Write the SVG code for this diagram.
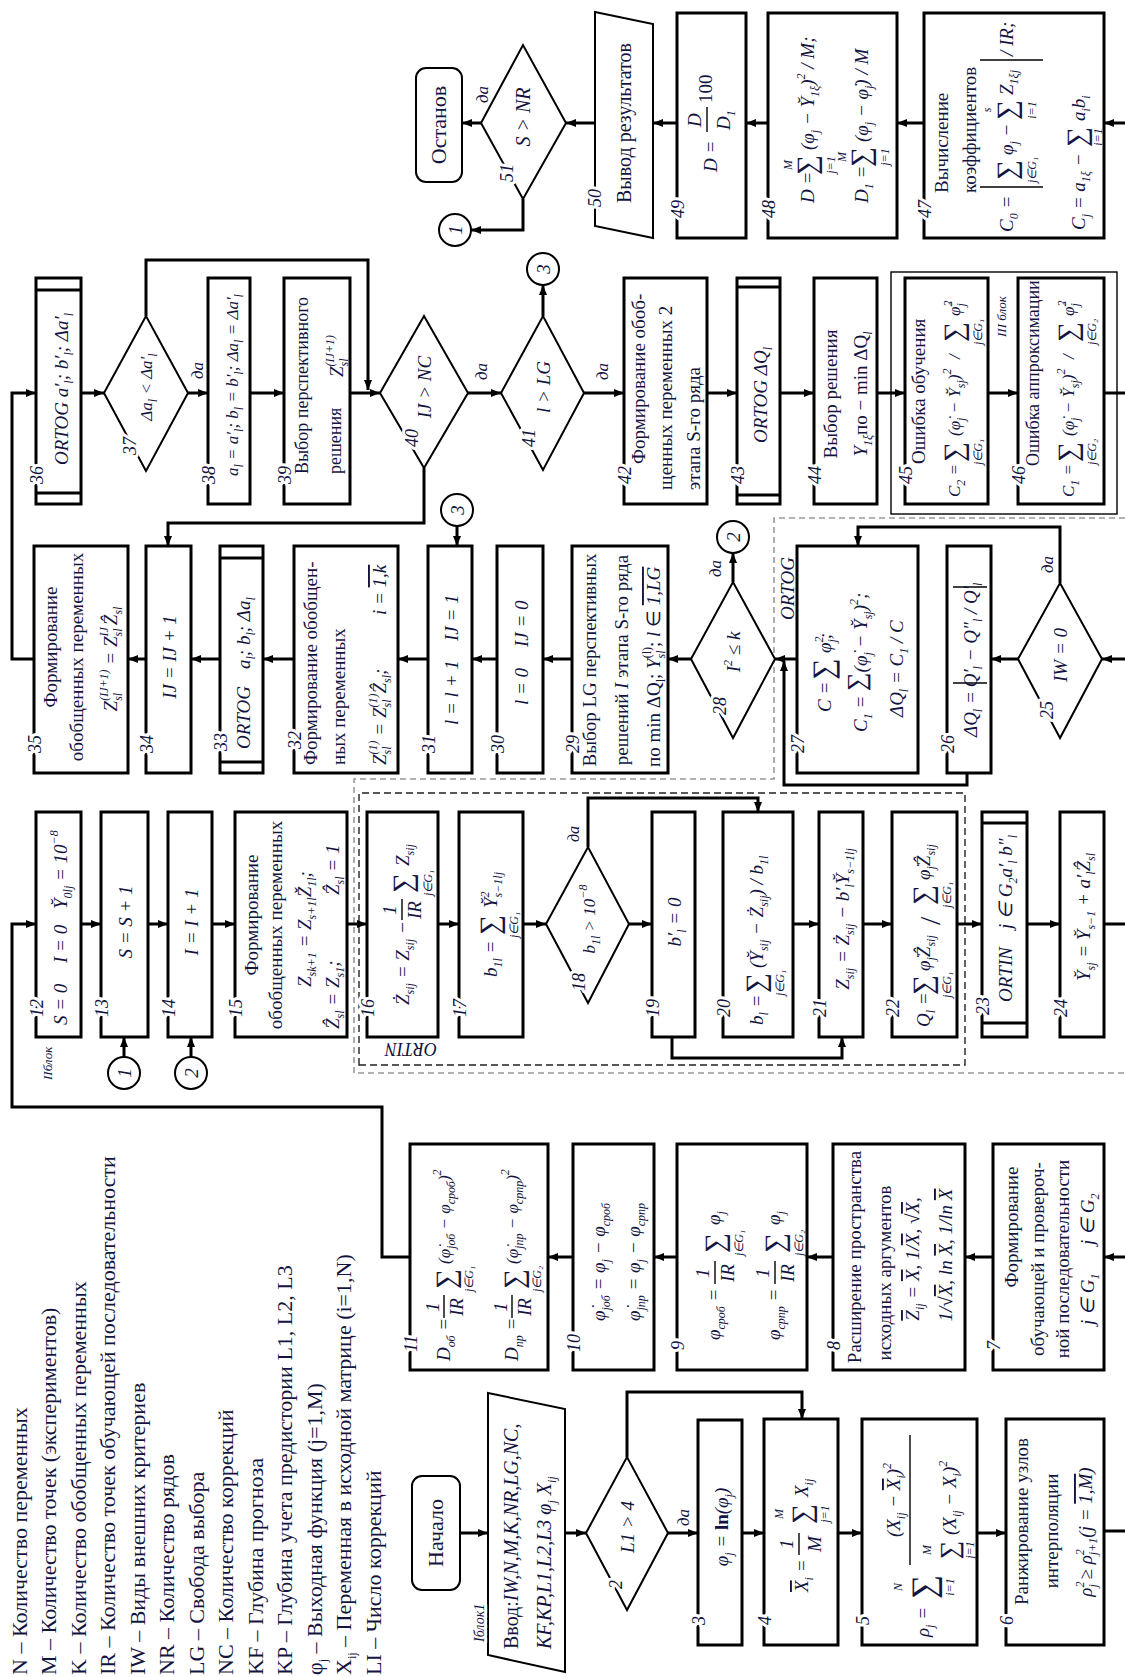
<svg xmlns="http://www.w3.org/2000/svg" width="1125" height="1677" viewBox="0 0 1125 1677">
<defs>
<style>
.b{fill:#fff;stroke:#000;stroke-width:3}
.d{fill:#fff;stroke:#000;stroke-width:2}
.c{fill:#fff;stroke:#000;stroke-width:2}
.w{fill:none;stroke:#000;stroke-width:3}
.h{fill:none;stroke:#000;stroke-width:3}
.fb{fill:none;stroke:#000;stroke-width:1.4}
.t{font-family:"Liberation Serif","Times New Roman",serif;font-size:19px;fill:#141440}
.i{font-style:italic}
.m{text-anchor:middle}
.k{font-size:17px}
.s{font-size:12px}
.g{font-size:28px;font-style:normal}
.lg{font-size:22px}
.big{font-size:22px}
.n{font-family:"Liberation Serif",serif;font-style:italic;font-size:18px;fill:#141440;stroke:#fff;stroke-width:6px;paint-order:stroke;stroke-linejoin:round}
.o{text-decoration:overline}
</style>
<marker id="a" viewBox="0 0 10 8" refX="10" refY="4" markerWidth="10" markerHeight="8" markerUnits="userSpaceOnUse" orient="auto"><path d="M0,0L10,4L0,8z" fill="#000"/></marker>
</defs>
<rect width="1125" height="1677" fill="#fff"/>
<g transform="matrix(0,-1,1,0,0,1677)">

<g id="legend">
<text class="t lg" x="2" y="27">N – Количество переменных</text>
<text class="t lg" x="2" y="56">M – Количество точек (экспериментов)</text>
<text class="t lg" x="2" y="86">K – Количество обобщенных переменных</text>
<text class="t lg" x="2" y="115">IR – Количество точек обучающей последовательности</text>
<text class="t lg" x="2" y="145">IW – Виды внешних критериев</text>
<text class="t lg" x="2" y="174">NR – Количество рядов</text>
<text class="t lg" x="2" y="204">LG – Свобода выбора</text>
<text class="t lg" x="2" y="233">NC – Количество коррекций</text>
<text class="t lg" x="2" y="263">KF – Глубина прогноза</text>
<text class="t lg" x="2" y="292">KP – Глубина учета предистории L1, L2, L3</text>
<text class="t lg" x="2" y="322">φ<tspan class="s" dy="5">j</tspan><tspan dy="-5"> – Выходная функция (j=1,M)</tspan></text>
<text class="t lg" x="2" y="351">X<tspan class="s" dy="5">ij</tspan><tspan dy="-5"> – Переменная в исходной матрице (i=1,N)</tspan></text>
<text class="t lg" x="2" y="381">LI – Число коррекций</text>
</g>

<g id="frames">
<path d="M1159,1125V774H898V354H604V1125" fill="none" stroke="#999" stroke-width="1.6" stroke-dasharray="6 4"/>
<rect x="612" y="359" width="272" height="606" fill="none" stroke="#222" stroke-width="1.4" stroke-dasharray="7 4"/>
<text class="t i" transform="translate(634,437) rotate(-90)" style="font-size:18px">ORTIN</text>
<text class="t i" x="1057" y="794">ORTOG</text>
<rect class="fb" x="1163" y="891" width="242" height="226"/>
<text class="t i" x="1340" y="1006" style="font-size:13px">III блок</text>
<text class="t i" x="597" y="52" style="font-size:13px">IIблок</text>
</g>

<g id="connectors" class="w">
<path d="M144,460V488" marker-end="url(#a)"/>
<path d="M144,565V586" marker-end="url(#a)"/>
<path d="M144,668V698" marker-end="url(#a)"/>
<path d="M220,627H285V802H258" marker-end="url(#a)"/>
<path d="M144,742V764" marker-end="url(#a)"/>
<path d="M144,838V862" marker-end="url(#a)"/>
<path d="M144,977V1006" marker-end="url(#a)"/>
<path d="M146,1104V1125"/>
<path d="M420,1125V1104" marker-end="url(#a)"/>
<path d="M420,993V965" marker-end="url(#a)"/>
<path d="M420,833V807" marker-end="url(#a)"/>
<path d="M420,677V654" marker-end="url(#a)"/>
<path d="M420,573V548" marker-end="url(#a)"/>
<path d="M420,410V382H570V12H753V36" marker-end="url(#a)"/>
<path d="M753,81V101" marker-end="url(#a)"/>
<path d="M620,124H640" marker-end="url(#a)"/>
<path d="M753,148V168" marker-end="url(#a)"/>
<path d="M620,191H640" marker-end="url(#a)"/>
<path d="M753,212V235" marker-end="url(#a)"/>
<path d="M753,347V367" marker-end="url(#a)"/>
<path d="M753,438V459" marker-end="url(#a)"/>
<path d="M753,523V546" marker-end="url(#a)"/>
<path d="M830,588H879V758H865" marker-end="url(#a)"/>
<path d="M753,629V652" marker-end="url(#a)"/>
<path d="M640,672H619V842H640" marker-end="url(#a)"/>
<path d="M753,793V819" marker-end="url(#a)"/>
<path d="M753,863V892" marker-end="url(#a)"/>
<path d="M753,957V982" marker-end="url(#a)"/>
<path d="M753,1027V1060" marker-end="url(#a)"/>
<path d="M753,1104V1125"/>
<path d="M1018,1125V1102" marker-end="url(#a)"/>
<path d="M1018,1018V991" marker-end="url(#a)"/>
<path d="M1094,1060H1150V858H1131" marker-end="url(#a)"/>
<path d="M904,967H892V784H1016" marker-end="url(#a)"/>
<path d="M1018,797V775" marker-end="url(#a)"/>
<path d="M1095,733H1124" marker-end="url(#a)"/>
<path d="M1018,691V668" marker-end="url(#a)"/>
<path d="M1018,572V543" marker-end="url(#a)"/>
<path d="M1018,497V472" marker-end="url(#a)"/>
<path d="M1151,457H1131" marker-end="url(#a)"/>
<path d="M1018,428V398" marker-end="url(#a)"/>
<path d="M1018,294V263" marker-end="url(#a)"/>
<path d="M1018,220V191" marker-end="url(#a)"/>
<path d="M1018,146V128" marker-end="url(#a)"/>
<path d="M1018,34V12H1284V36" marker-end="url(#a)"/>
<path d="M1209,424H1154V168H1131" marker-end="url(#a)"/>
<path d="M1284,81V104" marker-end="url(#a)"/>
<path d="M1361,146H1417V368H1287" marker-end="url(#a)"/>
<path d="M1284,188V208" marker-end="url(#a)"/>
<path d="M1284,250V284" marker-end="url(#a)"/>
<path d="M1284,350V380" marker-end="url(#a)"/>
<path d="M1284,468V501" marker-end="url(#a)"/>
<path d="M1361,543H1392" marker-end="url(#a)"/>
<path d="M1284,584V624" marker-end="url(#a)"/>
<path d="M1284,707V737" marker-end="url(#a)"/>
<path d="M1284,780V814" marker-end="url(#a)"/>
<path d="M1284,877V905" marker-end="url(#a)"/>
<path d="M1284,988V1018" marker-end="url(#a)"/>
<path d="M1284,1104V1125"/>
<path d="M1554,1125V1104" marker-end="url(#a)"/>
<path d="M1554,924V897" marker-end="url(#a)"/>
<path d="M1554,768V746" marker-end="url(#a)"/>
<path d="M1554,677V653" marker-end="url(#a)"/>
<path d="M1554,595V566" marker-end="url(#a)"/>
<path d="M1554,481V462" marker-end="url(#a)"/>
<path d="M1478,523H1447V471" marker-end="url(#a)"/>
</g>

<g id="n-start"><rect class="c" x="87" y="412" width="114" height="48" rx="10"/><text class="t big m" x="144" y="443">Начало</text></g>
<g id="n1"><polygon class="d" points="22,488 284,488 268,565 5,565"/><text class="n" x="35" y="484" style="font-size:14px">Iблок1</text>
<text class="t i" x="28" y="518" style="font-size:20px"><tspan style="font-style:normal">Ввод:</tspan>IW,N,M,K,NR,LG,NC,</text>
<text class="t i" x="28" y="551" style="font-size:20px">KF,KP,L1,L2,L3 φ<tspan class="s" dy="5">j</tspan><tspan dy="-5">  X</tspan><tspan class="s" dy="5">ij</tspan></text></g>
<g id="n2"><polygon class="d" points="67,627 144,586 220,627 144,668"/><text class="n" x="88" y="622">2</text><text class="t i m" x="150" y="634">L1 &gt; 4</text><text class="t i" x="151" y="689" style="font-size:17px">да</text></g>
<g id="n3"><rect class="b" x="32" y="698" width="225" height="44"/><text class="n" x="52" y="705">3</text><text class="t i m" x="150" y="728">φ<tspan class="s" dy="5">j</tspan><tspan dy="-5"> = </tspan><tspan style="font-weight:bold;font-style:normal">ln</tspan><tspan>(φ</tspan><tspan class="s" dy="5">j</tspan><tspan dy="-5">)</tspan></text></g>
<g id="n4"><rect class="b" x="32" y="764" width="226" height="74"/><text class="n" x="52" y="771">4</text>
<text class="t i" x="85" y="808"><tspan class="o">X</tspan><tspan class="s" dy="5">i</tspan><tspan dy="-5"> =</tspan></text>
<text class="t i m" x="133" y="793">1</text><line class="fb" x1="122" y1="799" x2="144" y2="799"/><text class="t i m" x="133" y="821">M</text>
<text class="t g m" x="163" y="811">∑</text><text class="t s i m" x="163" y="783">M</text><text class="t s i m" x="163" y="829">j=1</text>
<text class="t i" x="180" y="808">X<tspan class="s" dy="5">ij</tspan></text></g>
<g id="n5"><rect class="b" x="32" y="862" width="226" height="115"/><text class="n" x="52" y="869">5</text>
<text class="t i" x="40" y="929">ρ<tspan class="s" dy="5">j</tspan><tspan dy="-5"> =</tspan></text>
<text class="t g m" x="90" y="935" style="font-size:34px">∑</text><text class="t s i m" x="90" y="902">N</text><text class="t s i m" x="90" y="954">i=1</text>
<text class="t i m" x="177" y="900">(X<tspan class="s" dy="5">ij</tspan><tspan dy="-5"> − </tspan><tspan class="o">X</tspan><tspan class="s" dy="5">i</tspan><tspan dy="-5">)</tspan><tspan class="s" dy="-9">2</tspan></text>
<line class="fb" x1="112" y1="910" x2="242" y2="910"/>
<text class="t g m" x="127" y="958" style="font-size:26px">∑</text><text class="t s i m" x="127" y="931">M</text><text class="t s i m" x="127" y="974">j=1</text>
<text class="t i" x="142" y="956">(X<tspan class="s" dy="5">ij</tspan><tspan dy="-5"> − X</tspan><tspan class="s" dy="5">i</tspan><tspan dy="-5">)</tspan><tspan class="s" dy="-9">2</tspan></text></g>
<g id="n6"><rect class="b" x="32" y="1006" width="226" height="98"/><text class="n" x="52" y="1013">6</text>
<text class="t" x="72" y="1028">Ранжирование узлов</text>
<text class="t m" x="146" y="1058">интерполяции</text>
<text class="t i m" x="145" y="1092">ρ<tspan class="s" dy="-8">2</tspan><tspan class="s" dx="-6" dy="13">j</tspan><tspan dy="-5"> ≥ ρ</tspan><tspan class="s" dy="-8">2</tspan><tspan class="s" dx="-6" dy="13">j+1</tspan><tspan dy="-5">(j = </tspan><tspan class="o">1,M</tspan><tspan>)</tspan></text></g>

<g id="n7"><rect class="b" x="307" y="993" width="226" height="111"/><text class="n" x="327" y="1000">7</text>
<text class="t m" x="450" y="1018">Формирование</text>
<text class="t m" x="418" y="1044">обучающей и провероч-</text>
<text class="t m" x="418" y="1069">ной последовательности</text>
<text class="t i" x="352" y="1094">j ∈ G<tspan class="s" dy="5">1</tspan></text>
<text class="t i" x="432" y="1094">j ∈ G<tspan class="s" dy="5">2</tspan></text></g>
<g id="n8"><rect class="b" x="307" y="833" width="226" height="132"/><text class="n" x="327" y="840">8</text>
<text class="t m" x="420" y="861">Расширение пространства</text>
<text class="t m" x="404" y="891">исходных аргументов</text>
<text class="t i m" x="418" y="919"><tspan class="o">Z</tspan><tspan class="s" dy="5">ij</tspan><tspan dy="-5"> = </tspan><tspan class="o">X</tspan><tspan>, 1/</tspan><tspan class="o">X</tspan><tspan>, √</tspan><tspan class="o">X</tspan><tspan>,</tspan></text>
<text class="t i m" x="422" y="952">1/√<tspan class="o">X</tspan><tspan>, ln </tspan><tspan class="o">X</tspan><tspan>, 1/ln </tspan><tspan class="o">X</tspan></text></g>
<g id="n9"><rect class="b" x="307" y="677" width="226" height="130"/><text class="n" x="327" y="684">9</text>
<text class="t i" x="337" y="720">φ<tspan class="s" dy="5">сроб</tspan><tspan dy="-5"> =</tspan></text>
<text class="t i m" x="404" y="709">1</text><line class="fb" x1="393" y1="715" x2="416" y2="715"/><text class="t i m" x="404" y="734">IR</text>
<text class="t g m" x="434" y="724">∑</text><text class="t s i m" x="434" y="743">j∈G₁</text>
<text class="t i" x="452" y="720">φ<tspan class="s" dy="5">j</tspan></text>
<text class="t i" x="337" y="780">φ<tspan class="s" dy="5">српр</tspan><tspan dy="-5"> =</tspan></text>
<text class="t i m" x="404" y="769">1</text><line class="fb" x1="393" y1="775" x2="416" y2="775"/><text class="t i m" x="404" y="794">IR</text>
<text class="t g m" x="434" y="784">∑</text><text class="t s i m" x="434" y="803">j∈G₂</text>
<text class="t i" x="452" y="780">φ<tspan class="s" dy="5">j</tspan></text></g>
<g id="n10"><rect class="b" x="307" y="573" width="226" height="81"/><text class="n" x="325" y="580">10</text>
<text class="t i m" x="415" y="605">φ̇<tspan class="s" dy="5">jоб</tspan><tspan dy="-5"> = φ</tspan><tspan class="s" dy="5">j</tspan><tspan dy="-5"> − φ</tspan><tspan class="s" dy="5">сроб</tspan></text>
<text class="t i m" x="415" y="640">φ̇<tspan class="s" dy="5">jпр</tspan><tspan dy="-5"> = φ</tspan><tspan class="s" dy="5">j</tspan><tspan dy="-5"> − φ</tspan><tspan class="s" dy="5">српр</tspan></text></g>
<g id="n11"><rect class="b" x="307" y="410" width="226" height="138"/><text class="n" x="325" y="417">11</text>
<text class="t i" x="316" y="450">D<tspan class="s" dy="5">об</tspan><tspan dy="-5"> =</tspan></text>
<text class="t i m" x="370" y="439">1</text><line class="fb" x1="359" y1="444" x2="382" y2="444"/><text class="t i m" x="370" y="463">IR</text>
<text class="t g m" x="398" y="455">∑</text><text class="t s i m" x="398" y="473">j∈G₁</text>
<text class="t i k" x="413" y="450">(φ̇<tspan class="s" dy="5">jоб</tspan><tspan dy="-5"> − φ</tspan><tspan class="s" dy="5">сроб</tspan><tspan dy="-5">)</tspan><tspan class="s" dy="-9">2</tspan></text>
<text class="t i" x="316" y="518">D<tspan class="s" dy="5">пр</tspan><tspan dy="-5"> =</tspan></text>
<text class="t i m" x="370" y="507">1</text><line class="fb" x1="359" y1="512" x2="382" y2="512"/><text class="t i m" x="370" y="531">IR</text>
<text class="t g m" x="398" y="523">∑</text><text class="t s i m" x="398" y="541">j∈G₂</text>
<text class="t i k" x="413" y="518">(φ̇<tspan class="s" dy="5">jпр</tspan><tspan dy="-5"> − φ</tspan><tspan class="s" dy="5">српр</tspan><tspan dy="-5">)</tspan><tspan class="s" dy="-9">2</tspan></text></g>

<g id="n12"><rect class="b" x="640" y="36" width="225" height="45"/><text class="n" x="660" y="43">12</text>
<text class="t i" x="652" y="67">S = 0</text><text class="t i" x="714" y="67">I = 0</text>
<text class="t i" x="768" y="67">Y̆<tspan class="s" dy="5">0lj</tspan><tspan dy="-5"> = 10</tspan><tspan class="s" dy="-9">−8</tspan></text></g>
<g id="n13"><rect class="b" x="640" y="101" width="225" height="47"/><text class="n" x="660" y="108">13</text><text class="t i m" x="755" y="132">S = S + 1</text></g>
<g id="c1a"><circle class="c" cx="604" cy="124" r="16"/><text class="t i m" x="604" y="131">1</text></g>
<g id="n14"><rect class="b" x="640" y="168" width="225" height="44"/><text class="n" x="660" y="175">14</text><text class="t i m" x="755" y="198">I = I + 1</text></g>
<g id="c2a"><circle class="c" cx="604" cy="191" r="16"/><text class="t i m" x="604" y="198">2</text></g>
<g id="n15"><rect class="b" x="640" y="235" width="225" height="112"/><text class="n" x="660" y="242">15</text>
<text class="t m" x="762" y="258">Формирование</text>
<text class="t m" x="752" y="282">обобщенных переменных</text>
<text class="t i" x="690" y="311">Z<tspan class="s" dy="5">sk+1</tspan><tspan dy="-5"> = Z</tspan><tspan class="s" dy="5">s+1l</tspan><tspan dy="-5">Ž</tspan><tspan class="s" dy="5">1l</tspan><tspan dy="-5">;</tspan></text>
<text class="t i" x="648" y="339">Ẑ<tspan class="s" dy="5">sl</tspan><tspan dy="-5"> = Z</tspan><tspan class="s" dy="5">s1</tspan><tspan dy="-5">;</tspan></text>
<text class="t i" x="782" y="339">Ẑ<tspan class="s" dy="5">sl</tspan><tspan dy="-5"> = 1</tspan></text></g>
<g id="n16"><rect class="b" x="640" y="367" width="225" height="71"/><text class="n" x="660" y="374">16</text>
<text class="t i" x="672" y="409">Ż<tspan class="s" dy="5">sij</tspan><tspan dy="-5"> = Z</tspan><tspan class="s" dy="5">sij</tspan><tspan dy="-5"> −</tspan></text>
<text class="t i m" x="767" y="396">1</text><line class="fb" x1="757" y1="402" x2="778" y2="402"/><text class="t i m" x="767" y="421">IR</text>
<text class="t g m" x="794" y="412">∑</text><text class="t s i m" x="794" y="432">j∈G₁</text>
<text class="t i" x="811" y="409">Z<tspan class="s" dy="5">sij</tspan></text></g>
<g id="n17"><rect class="b" x="640" y="459" width="225" height="64"/><text class="n" x="660" y="466">17</text>
<text class="t i" x="700" y="497">b<tspan class="s" dy="5">1l</tspan><tspan dy="-5"> =</tspan></text>
<text class="t g m" x="752" y="499">∑</text><text class="t s i m" x="752" y="518">j∈G₁</text>
<text class="t i" x="769" y="497">Y̆<tspan class="s" dy="-8">2</tspan><tspan class="s" dx="-6" dy="13">s−1lj</tspan></text></g>
<g id="n18"><polygon class="d" points="674,588 753,546 830,588 753,629"/><text class="n" x="686" y="585">18</text>
<text class="t i m k" x="758" y="595">b<tspan class="s" dy="5">1l</tspan><tspan dy="-5"> &gt; 10</tspan><tspan class="s" dy="-8">−8</tspan></text>
<text class="t i" x="835" y="579" style="font-size:16px">да</text></g>
<g id="n19"><rect class="b" x="640" y="652" width="225" height="43"/><text class="n" x="660" y="659">19</text><text class="t i m" x="755" y="681">b′<tspan class="s" dy="5">l</tspan><tspan dy="-5"> = 0</tspan></text></g>
<g id="n20"><rect class="b" x="640" y="723" width="225" height="70"/><text class="n" x="660" y="730">20</text>
<text class="t i" x="652" y="763">b<tspan class="s" dy="5">l</tspan><tspan dy="-5"> =</tspan></text>
<text class="t g m" x="694" y="765">∑</text><text class="t s i m" x="694" y="784">j∈G₁</text>
<text class="t i" x="709" y="763">(Y̆<tspan class="s" dy="5">sij</tspan><tspan dy="-5"> − Ż</tspan><tspan class="s" dy="5">sij</tspan><tspan dy="-5">) / b</tspan><tspan class="s" dy="5">1l</tspan></text></g>
<g id="n21"><rect class="b" x="640" y="819" width="225" height="44"/><text class="n" x="660" y="826">21</text><text class="t i m" x="758" y="849">Z<tspan class="s" dy="5">sij</tspan><tspan dy="-5"> = Ż</tspan><tspan class="s" dy="5">sij</tspan><tspan dy="-5"> − b′</tspan><tspan class="s" dy="5">l</tspan><tspan dy="-5">Y̆</tspan><tspan class="s" dy="5">s−1lj</tspan></text></g>
<g id="n22"><rect class="b" x="640" y="892" width="225" height="65"/><text class="n" x="660" y="899">22</text>
<text class="t i" x="650" y="930">Q<tspan class="s" dy="5">l</tspan><tspan dy="-5"> =</tspan></text>
<text class="t g m" x="692" y="932">∑</text><text class="t s i m" x="692" y="951">j∈G₁</text>
<text class="t i" x="706" y="930">φ̇<tspan class="s" dy="5">j</tspan><tspan dy="-5">Ẑ</tspan><tspan class="s" dy="5">sij</tspan></text>
<text class="t" x="752" y="940" style="font-size:30px">/</text>
<text class="t g m" x="782" y="932">∑</text><text class="t s i m" x="782" y="951">j∈G₁</text>
<text class="t i" x="797" y="930">φ̇<tspan class="s" dy="5">j</tspan><tspan dy="-5">Ẑ</tspan><tspan class="s" dy="5">sij</tspan></text></g>
<g id="n23"><rect class="b" x="640" y="982" width="225" height="45"/><line class="h" x1="654" y1="982" x2="654" y2="1027"/><line class="h" x1="854" y1="982" x2="854" y2="1027"/><text class="n" x="662" y="989">23</text>
<text class="t i" x="675" y="1012">ORTIN</text><text class="t i" x="748" y="1012">j ∈ G<tspan class="s" dy="5">2</tspan><tspan dy="-5">a′</tspan><tspan class="s" dy="5">l</tspan><tspan dy="-5"> b″</tspan><tspan class="s" dy="5">l</tspan></text></g>
<g id="n24"><rect class="b" x="640" y="1060" width="225" height="44"/><text class="n" x="660" y="1067">24</text><text class="t i m" x="760" y="1090">Y̆<tspan class="s" dy="5">sj</tspan><tspan dy="-5"> = Y̆</tspan><tspan class="s" dy="5">s−1</tspan><tspan dy="-5"> + a′</tspan><tspan class="s" dy="5">l</tspan><tspan dy="-5">Ẑ</tspan><tspan class="s" dy="5">sl</tspan></text></g>

<g id="n25"><polygon class="d" points="939,1060 1018,1018 1094,1060 1018,1102"/><text class="n" x="958" y="1053">25</text><text class="t i m" x="1022" y="1067">IW = 0</text><text class="t i" x="1104" y="1053" style="font-size:17px">да</text></g>
<g id="n26"><rect class="b" x="904" y="947" width="227" height="44"/><text class="n" x="924" y="954">26</text>
<text class="t i" x="940" y="977">ΔQ<tspan class="s" dy="5">l</tspan><tspan dy="-5"> =</tspan></text>
<line class="fb" x1="994" y1="953" x2="994" y2="987"/><line class="fb" x1="1090" y1="953" x2="1090" y2="987"/>
<text class="t i m" x="1042" y="977">Q′<tspan class="s" dy="5">l</tspan><tspan dy="-5"> − Q″</tspan><tspan class="s" dy="5">l</tspan><tspan dy="-5"> / Q′</tspan><tspan class="s" dy="5">l</tspan></text></g>
<g id="n27"><rect class="b" x="904" y="797" width="227" height="121"/><text class="n" x="924" y="804">27</text>
<text class="t i" x="965" y="831">C =</text><text class="t g m" x="1008" y="833" style="font-size:30px">∑</text><text class="t i" x="1024" y="831">φ<tspan class="s" dy="-8">2</tspan><tspan class="s" dx="-6" dy="13">j</tspan><tspan dy="-5">;</tspan></text>
<text class="t i" x="945" y="867">C<tspan class="s" dy="5">1</tspan><tspan dy="-5"> = </tspan><tspan style="font-size:26px;font-style:normal" dy="-2">∑</tspan><tspan dy="2">(φ̇</tspan><tspan class="s" dy="5">j</tspan><tspan dy="-5"> − Y̆</tspan><tspan class="s" dy="5">sj</tspan><tspan dy="-5">)</tspan><tspan class="s" dy="-9">2</tspan><tspan dy="9">;</tspan></text>
<text class="t i" x="960" y="903">ΔQ<tspan class="s" dy="5">l</tspan><tspan dy="-5"> = C</tspan><tspan class="s" dy="5">1</tspan><tspan dy="-5"> / C</tspan></text></g>
<g id="n28"><polygon class="d" points="939,733 1018,691 1095,733 1018,775"/><text class="n" x="962" y="726">28</text><text class="t i m" x="1025" y="740">I<tspan class="s" dy="-8">2</tspan><tspan dy="8"> ≤ k</tspan></text><text class="t i" x="1100" y="721" style="font-size:17px">да</text></g>
<g id="c2b"><circle class="c" cx="1140" cy="733" r="16"/><text class="t i m" x="1140" y="740">2</text></g>
<g id="n29"><rect class="b" x="904" y="572" width="227" height="96"/><text class="n" x="924" y="579">29</text>
<text class="t m" x="1017" y="596">Выбор LG перспективных</text>
<text class="t m" x="1017" y="628">решений <tspan class="i">I</tspan> этапа S-го ряда</text>
<text class="t" x="910" y="660">по min ΔQ<tspan class="s" dy="5">l</tspan><tspan dy="-5">; </tspan><tspan class="i">Y</tspan><tspan class="s i" dy="5">sl</tspan><tspan class="s" dx="-8" dy="-14">(l)</tspan><tspan dy="9">; </tspan><tspan class="i">l</tspan><tspan> ∈ </tspan><tspan class="o i">1,LG</tspan></text></g>
<g id="n30"><rect class="b" x="904" y="497" width="227" height="46"/><text class="n" x="924" y="504">30</text><text class="t i" x="972" y="528">l = 0</text><text class="t i" x="1030" y="528">IJ = 0</text></g>
<g id="n31"><rect class="b" x="904" y="428" width="227" height="44"/><text class="n" x="924" y="435">31</text><text class="t i" x="952" y="458">l = l + 1</text><text class="t i" x="1036" y="458">IJ = 1</text></g>
<g id="c3a"><circle class="c" cx="1167" cy="457" r="16"/><text class="t i m" x="1167" y="464">3</text></g>
<g id="n32"><rect class="b" x="904" y="294" width="227" height="104"/><text class="n" x="928" y="301">32</text>
<text class="t" x="912" y="317">Формирование обобщен-</text>
<text class="t" x="912" y="345">ных переменных</text>
<text class="t i" x="912" y="386">Z<tspan class="s" dy="5">sl</tspan><tspan class="s" dx="-8" dy="-14">(1)</tspan><tspan dy="9"> = Z</tspan><tspan class="s" dy="5">sl</tspan><tspan class="s" dx="-8" dy="-14">(1)</tspan><tspan dy="9">Ẑ</tspan><tspan class="s" dy="5">sl</tspan><tspan dy="-5">;</tspan></text>
<text class="t i" x="1062" y="386">i = <tspan class="o">1,k</tspan></text></g>
<g id="n33"><rect class="b" x="904" y="220" width="227" height="43"/><line class="h" x1="915" y1="220" x2="915" y2="263"/><line class="h" x1="1119" y1="220" x2="1119" y2="263"/><text class="n" x="926" y="227">33</text>
<text class="t i" x="928" y="250">ORTOG</text><text class="t i" x="1008" y="250">a<tspan class="s" dy="5">l</tspan><tspan dy="-5">; b</tspan><tspan class="s" dy="5">l</tspan><tspan dy="-5">; Δa</tspan><tspan class="s" dy="5">l</tspan></text></g>
<g id="n34"><rect class="b" x="904" y="146" width="227" height="45"/><text class="n" x="924" y="153">34</text><text class="t i m" x="1020" y="176">IJ = IJ + 1</text></g>
<g id="n35"><rect class="b" x="904" y="34" width="227" height="94"/><text class="n" x="924" y="41">35</text>
<text class="t m" x="1030" y="57">Формирование</text>
<text class="t m" x="1020" y="83">обобщенных переменных</text>
<text class="t i m" x="1018" y="117">Z<tspan class="s" dy="5">sl</tspan><tspan class="s" dx="-8" dy="-14">(IJ+1)</tspan><tspan dy="9"> = Z</tspan><tspan class="s" dy="5">sl</tspan><tspan class="s" dx="-8" dy="-14">IJ</tspan><tspan dx="2" dy="9">Ẑ</tspan><tspan class="s" dy="5">sl</tspan></text></g>

<g id="n36"><rect class="b" x="1173" y="36" width="226" height="45"/><line class="h" x1="1184" y1="36" x2="1184" y2="81"/><line class="h" x1="1387" y1="36" x2="1387" y2="81"/><text class="n" x="1193" y="43">36</text>
<text class="t i m" x="1288" y="68">ORTOG  a′<tspan class="s" dy="5">l</tspan><tspan dy="-5">; b′</tspan><tspan class="s" dy="5">l</tspan><tspan dy="-5">; Δa′</tspan><tspan class="s" dy="5">l</tspan></text></g>
<g id="n37"><polygon class="d" points="1206,146 1284,104 1361,146 1284,188"/><text class="n" x="1222" y="136">37</text><text class="t i m k" x="1290" y="152">Δa<tspan class="s" dy="5">l</tspan><tspan dy="-5"> &lt; Δa′</tspan><tspan class="s" dy="5">l</tspan></text><text class="t i" x="1298" y="203" style="font-size:17px">да</text></g>
<g id="n38"><rect class="b" x="1173" y="208" width="226" height="42"/><text class="n" x="1193" y="215">38</text><text class="t i m k" x="1292" y="238">a<tspan class="s" dy="5">l</tspan><tspan dy="-5"> = a′</tspan><tspan class="s" dy="5">l</tspan><tspan dy="-5">; b</tspan><tspan class="s" dy="5">l</tspan><tspan dy="-5"> = b′</tspan><tspan class="s" dy="5">l</tspan><tspan dy="-5">; Δa</tspan><tspan class="s" dy="5">l</tspan><tspan dy="-5"> = Δa′</tspan><tspan class="s" dy="5">l</tspan></text></g>
<g id="n39"><rect class="b" x="1173" y="284" width="226" height="66"/><text class="n" x="1193" y="291">39</text>
<text class="t" x="1203" y="308" style="font-size:18px">Выбор перспективного</text>
<text class="t" x="1203" y="341" style="font-size:18px">решения</text>
<text class="t i" x="1300" y="343">Z<tspan class="s" dy="5">sl</tspan><tspan class="s" dx="-8" dy="-14">(IJ+1)</tspan></text></g>
<g id="n40"><polygon class="d" points="1209,424 1284,380 1361,424 1284,468"/><text class="n" x="1230" y="418">40</text><text class="t i m" x="1290" y="431">IJ &gt; NC</text><text class="t i" x="1297" y="487" style="font-size:17px">да</text></g>
<g id="n41"><polygon class="d" points="1207,543 1284,501 1361,543 1284,584"/><text class="n" x="1230" y="535">41</text><text class="t i m" x="1290" y="550">l &gt; LG</text><text class="t i" x="1297" y="608" style="font-size:17px">да</text></g>
<g id="c3b"><circle class="c" cx="1408" cy="543" r="16"/><text class="t i m" x="1408" y="550">3</text></g>
<g id="n42"><rect class="b" x="1173" y="624" width="226" height="83"/><text class="n" x="1193" y="631">42</text>
<text class="t" x="1213" y="645">Формирование обоб-</text>
<text class="t" x="1187" y="672">щенных переменных 2</text>
<text class="t" x="1187" y="700">этапа S-го ряда</text></g>
<g id="n43"><rect class="b" x="1173" y="737" width="226" height="43"/><line class="h" x1="1182" y1="737" x2="1182" y2="780"/><line class="h" x1="1390" y1="737" x2="1390" y2="780"/><text class="n" x="1193" y="744">43</text>
<text class="t i m" x="1282" y="767">ORTOG  ΔQ<tspan class="s" dy="5">l</tspan></text></g>
<g id="n44"><rect class="b" x="1173" y="814" width="226" height="63"/><text class="n" x="1193" y="821">44</text>
<text class="t m" x="1283" y="837">Выбор решения</text>
<text class="t m" x="1283" y="867"><tspan class="i">Y</tspan><tspan class="s i" dy="5">1ξ</tspan><tspan dy="-5">по − min ΔQ</tspan><tspan class="s i" dy="5">l</tspan></text></g>
<g id="n45"><rect class="b" x="1173" y="905" width="226" height="83"/><text class="n" x="1193" y="912">45</text>
<text class="t" x="1213" y="925">Ошибка обучения</text>
<text class="t i k" x="1180" y="960">C<tspan class="s" dy="5">2</tspan><tspan dy="-5"> =</tspan></text>
<text class="t g m" x="1225" y="963">∑</text><text class="t s i m" x="1225" y="982">j∈G₁</text>
<text class="t i k" x="1241" y="960">(φ̇<tspan class="s" dy="5">j</tspan><tspan dy="-5"> − Y̆</tspan><tspan class="s" dy="5">sj</tspan><tspan dy="-5">)</tspan><tspan class="s" dy="-9">2</tspan></text>
<text class="t i k" x="1318" y="960">/</text>
<text class="t g m" x="1345" y="963">∑</text><text class="t s i m" x="1345" y="982">j∈G₁</text>
<text class="t i k" x="1361" y="960">φ̇<tspan class="s" dy="-8">2</tspan><tspan class="s" dx="-6" dy="13">j</tspan></text></g>
<g id="n46"><rect class="b" x="1173" y="1018" width="226" height="86"/><text class="n" x="1193" y="1025">46</text>
<text class="t" x="1211" y="1039" style="font-size:18px">Ошибка аппроксимации</text>
<text class="t i k" x="1180" y="1074">C<tspan class="s" dy="5">1</tspan><tspan dy="-5"> =</tspan></text>
<text class="t g m" x="1225" y="1077">∑</text><text class="t s i m" x="1225" y="1096">j∈G₂</text>
<text class="t i k" x="1241" y="1074">(φ̇<tspan class="s" dy="5">j</tspan><tspan dy="-5"> − Y̆</tspan><tspan class="s" dy="5">sj</tspan><tspan dy="-5">)</tspan><tspan class="s" dy="-9">2</tspan></text>
<text class="t i k" x="1318" y="1074">/</text>
<text class="t g m" x="1345" y="1077">∑</text><text class="t s i m" x="1345" y="1096">j∈G₂</text>
<text class="t i k" x="1361" y="1074">φ̇<tspan class="s" dy="-8">2</tspan><tspan class="s" dx="-6" dy="13">j</tspan></text></g>

<g id="n47"><rect class="b" x="1439" y="924" width="225" height="180"/><text class="n" x="1459" y="931">47</text>
<text class="t" x="1484" y="948">Вычисление</text>
<text class="t" x="1484" y="976">коэффициентов</text>
<text class="t i" x="1445" y="1013">C<tspan class="s" dy="5">0</tspan><tspan dy="-5"> =</tspan></text>
<line class="fb" x1="1490" y1="980" x2="1490" y2="1043"/><line class="fb" x1="1617" y1="980" x2="1617" y2="1043"/>
<text class="t g m" x="1507" y="1016">∑</text><text class="t s i m" x="1507" y="1036">j∈G₁</text>
<text class="t i" x="1522" y="1013">φ<tspan class="s" dy="5">j</tspan><tspan dy="-5"> −</tspan></text>
<text class="t g m" x="1567" y="1016">∑</text><text class="t s i m" x="1567" y="991">s</text><text class="t s i m" x="1567" y="1036">i=1</text>
<text class="t i" x="1582" y="1013">Z<tspan class="s" dy="5">1ξj</tspan></text>
<text class="t i" x="1621" y="1013">/ IR;</text>
<text class="t i" x="1447" y="1085">C<tspan class="s" dy="5">j</tspan><tspan dy="-5"> = a</tspan><tspan class="s" dy="5">1ξ</tspan><tspan dy="-5"> −</tspan></text>
<text class="t g m" x="1540" y="1086">∑</text><text class="t s i m" x="1540" y="1102">i=1</text>
<text class="t i" x="1556" y="1085">a<tspan class="s" dy="5">i</tspan><tspan dy="-5">b</tspan><tspan class="s" dy="5">i</tspan></text></g>
<g id="n48"><rect class="b" x="1439" y="768" width="225" height="129"/><text class="n" x="1459" y="775">48</text>
<text class="t i" x="1474" y="814">D =</text>
<text class="t g m" x="1512" y="816">∑</text><text class="t s i m" x="1512" y="792">M</text><text class="t s i m" x="1512" y="835">j=1</text>
<text class="t i" x="1527" y="814">(φ<tspan class="s" dy="5">j</tspan><tspan dy="-5"> − Y̆</tspan><tspan class="s" dy="5">1ξ</tspan><tspan dy="-5">)</tspan><tspan class="s" dy="-9">2</tspan><tspan dy="9"> / M;</tspan></text>
<text class="t i" x="1474" y="868">D<tspan class="s" dy="5">1</tspan><tspan dy="-5"> =</tspan></text>
<text class="t g m" x="1520" y="870">∑</text><text class="t s i m" x="1520" y="846">M</text><text class="t s i m" x="1520" y="889">j=1</text>
<text class="t i" x="1535" y="868">(φ<tspan class="s" dy="5">j</tspan><tspan dy="-5"> − φ̇</tspan><tspan class="s" dy="5">j</tspan><tspan dy="-5">) / M</tspan></text></g>
<g id="n49"><rect class="b" x="1439" y="677" width="225" height="69"/><text class="n" x="1459" y="684">49</text>
<text class="t i" x="1505" y="717">D =</text>
<text class="t i m" x="1557" y="701">D</text><line class="fb" x1="1545" y1="707" x2="1570" y2="707"/><text class="t i m" x="1557" y="730">D<tspan class="s" dy="5">1</tspan></text>
<text class="t" x="1574" y="712">100</text></g>
<g id="n50"><polygon class="d" points="1451,595 1665,595 1653,653 1439,653"/><text class="n" x="1470" y="601">50</text><text class="t m" x="1554" y="631" style="font-size:20px">Вывод результатов</text></g>
<g id="n51"><polygon class="d" points="1478,523 1554,481 1632,523 1554,566"/><text class="n" x="1495" y="513">51</text><text class="t i m" x="1560" y="530" style="font-size:20px">S &gt; NR</text><text class="t i" x="1574" y="488" style="font-size:17px">да</text></g>
<g id="n-stop"><rect class="c" x="1495" y="416" width="114" height="46" rx="10"/><text class="t big m" x="1552" y="446">Останов</text></g>
<g id="c1b"><circle class="c" cx="1447" cy="455" r="16"/><text class="t i m" x="1447" y="462">1</text></g>
</g>
</svg>
